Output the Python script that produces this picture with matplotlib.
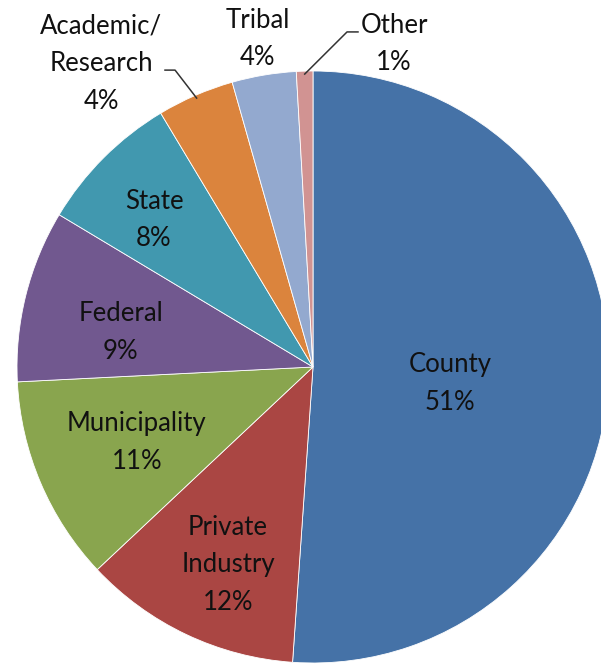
import numpy as np
import matplotlib
matplotlib.use("Agg")
import matplotlib.pyplot as plt

categories = ["County", "Private\nIndustry", "Municipality", "Federal", "State",
              "Academic/\nResearch", "Tribal", "Other"]
values = [51.1, 11.9, 11.2, 9.4, 7.8, 4.2, 3.5, 0.9]
colors = ["#4572A7", "#AA4643", "#89A54E", "#71588F", "#4198AF",
          "#DB843D", "#93A9CF", "#D19392"]

W, H = 601, 664
cx, cy, R = 313, 367, 296

fig = plt.figure(figsize=(W / 100, H / 100), dpi=100)
ax = fig.add_axes([0, 0, 1, 1])
wedges, _ = ax.pie(values, colors=colors, startangle=90, counterclock=False,
                   radius=1.0, wedgeprops=dict(edgecolor="white", linewidth=0.6))
ax.set_xlim(-cx / R, (W - cx) / R)
ax.set_ylim(-(H - cy) / R, cy / R)
ax.set_aspect("auto")
ax.axis("off")

font = dict(family=["Lato", "DejaVu Sans"], fontsize=18.5, color="#111111",
            ha="center", va="center", linespacing=1.63)

# label block centres (layout, in pie-radius units)
label_pos = [(0.463, -0.056), (-0.287, -0.668), (-0.595, -0.256), (-0.649, 0.116),
             (-0.537, 0.496), (-0.716, 1.025), (-0.186, 1.108), (0.274, 1.091)]
leaders = {5: [(-0.466, 1.003), (-0.50, 1.003)],
           7: [(0.115, 1.132), (0.152, 1.132)]}

for i, w in enumerate(wedges):
    mid = np.deg2rad((w.theta1 + w.theta2) / 2)
    label = f"{categories[i]}\n{values[i]:.0f}%"
    x, y = label_pos[i]
    ax.text(x, y, label, **font)
    if i in leaders:
        pts = [(0.99 * np.cos(mid), 0.99 * np.sin(mid))] + leaders[i]
        xs, ys = zip(*pts)
        ax.plot(xs, ys, color="#333333", lw=1.1)

fig.savefig("out.png", dpi=100, facecolor="white")
